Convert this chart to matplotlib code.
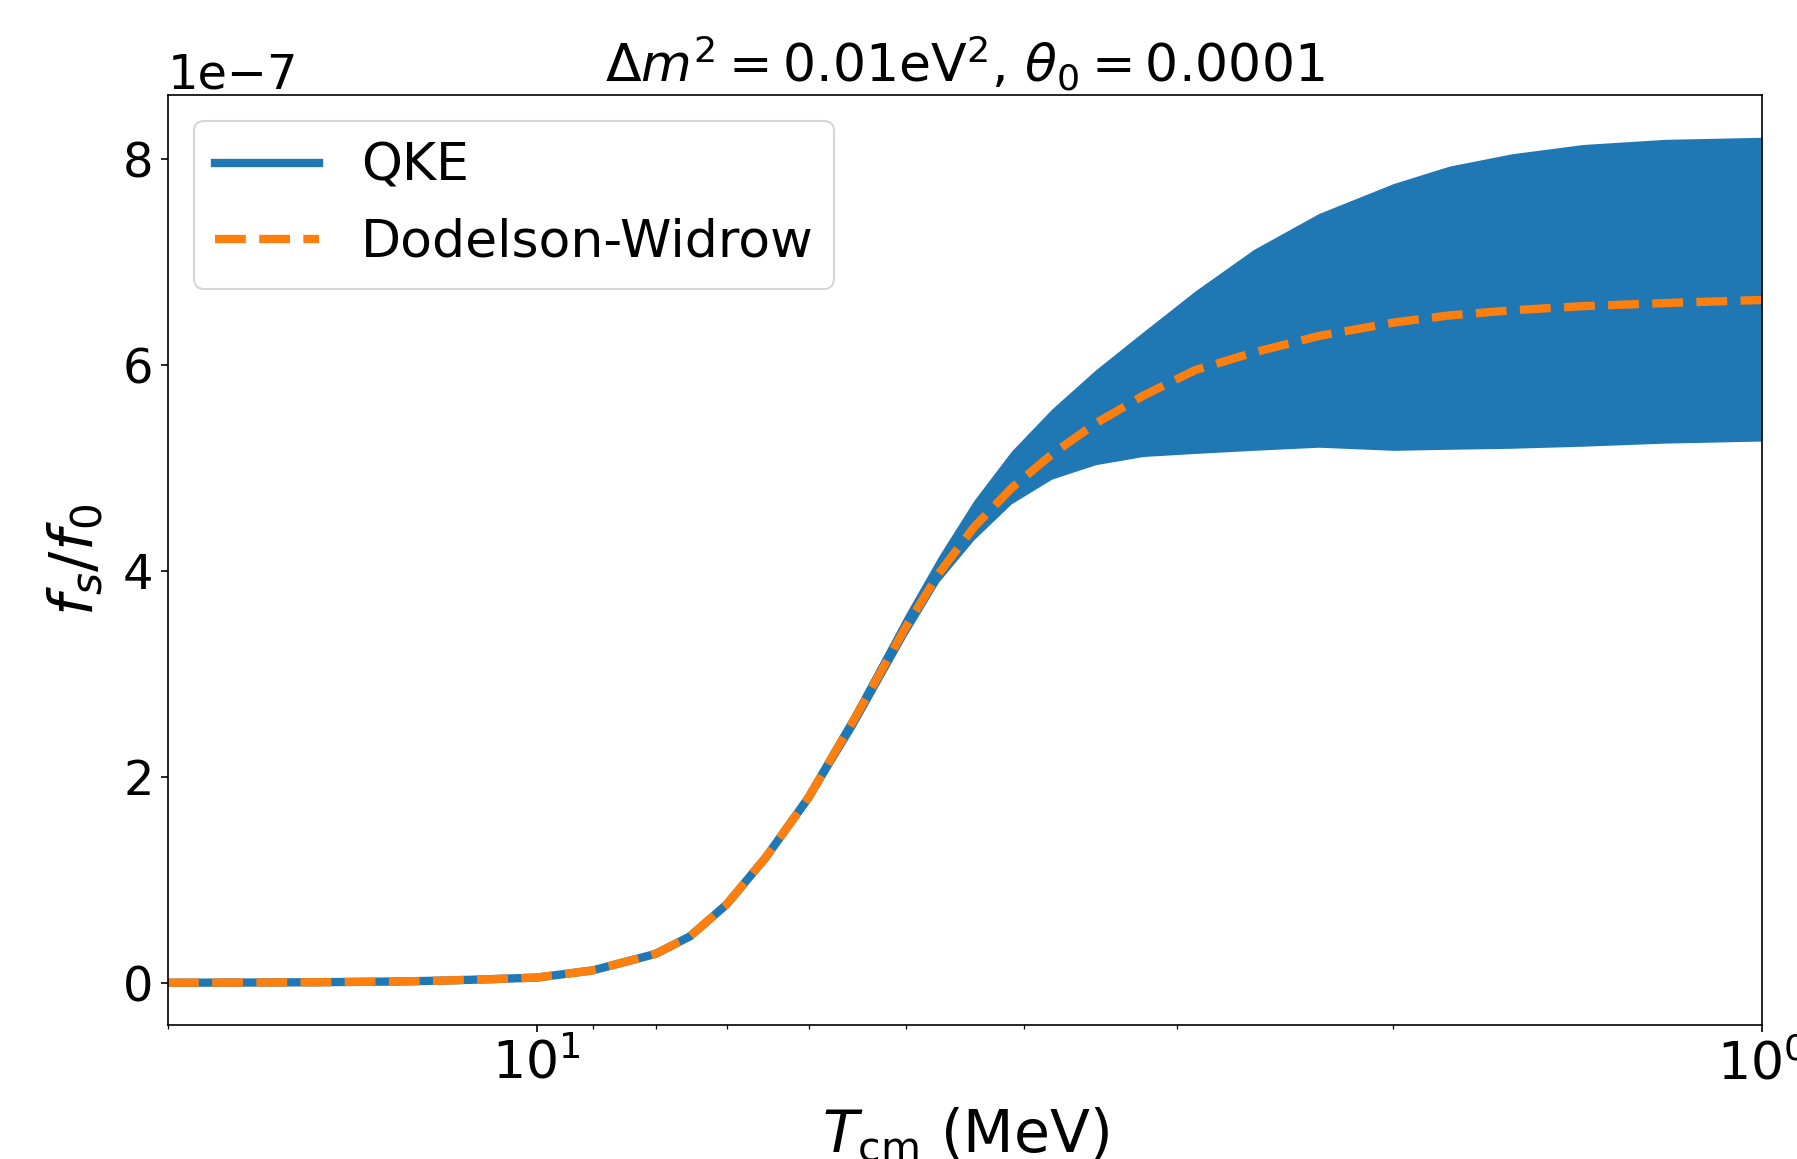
import numpy as np
import matplotlib
matplotlib.use("Agg")
from matplotlib import pyplot as plt

# temperature grid (MeV)
T = [20, 17, 15, 13, 12, 11, 10, 9, 8, 7.5, 7, 6.5, 6, 5.5, 5, 4.7, 4.4, 4.1, 3.8, 3.5,
     3.2, 2.9, 2.6, 2.3, 2.0, 1.8, 1.6, 1.4, 1.2, 1.0]

# Dodelson-Widrow curve (units of 1e-7)
dw = [0, 0.002, 0.005, 0.012, 0.02, 0.033, 0.05, 0.12, 0.28, 0.45, 0.76, 1.22, 1.8, 2.57,
      3.45, 3.97, 4.42, 4.8, 5.13, 5.43, 5.7, 5.95, 6.12, 6.28, 6.41, 6.48, 6.53, 6.57, 6.60, 6.63]

# envelope of the (fast oscillating) QKE solution (units of 1e-7)
qke_hi = [0, 0.002, 0.005, 0.013, 0.021, 0.035, 0.055, 0.13, 0.30, 0.47, 0.79, 1.26, 1.86, 2.66,
          3.58, 4.14, 4.68, 5.16, 5.57, 5.95, 6.32, 6.72, 7.12, 7.47, 7.76, 7.93, 8.05, 8.14, 8.19, 8.21]
qke_lo = [0, 0.002, 0.005, 0.011, 0.019, 0.031, 0.045, 0.11, 0.26, 0.43, 0.73, 1.18, 1.74, 2.48,
          3.36, 3.89, 4.3, 4.65, 4.89, 5.03, 5.11, 5.14, 5.17, 5.2, 5.17, 5.18, 5.19, 5.21, 5.24, 5.26]

T = np.array(T)
scale = 1e-7
dw = np.array(dw) * scale
qke_hi = np.array(qke_hi) * scale
qke_lo = np.array(qke_lo) * scale

fig = plt.figure(figsize=(1797 / 150, 1159 / 150), dpi=150)
ax = fig.add_axes([168 / 1797, 1 - 1025 / 1159, (1762 - 168) / 1797, (1025 - 95) / 1159])

blue = '#1f77b4'
orange = '#ff7f0e'

ax.fill_between(T, qke_lo, qke_hi, color=blue, lw=0)
ax.plot(T, (qke_lo + qke_hi) / 2, color=blue, lw=4, label='QKE')
ax.plot(T, dw, color=orange, lw=4, ls='--', label='Dodelson-Widrow')

ax.set_xscale('log')
ax.set_xlim(20, 1)

ax.tick_params(axis='y', labelsize=23)
ax.tick_params(axis='x', labelsize=25)
ax.yaxis.get_offset_text().set_fontsize(23)

ax.set_xlabel(r'$T_{\rm cm}$ (MeV)', fontsize=28, labelpad=7)
ax.set_ylabel(r'$f_s/f_0$', fontsize=29, labelpad=8)
ax.set_title(r'$\Delta m^2 = 0.01 \mathrm{eV}^2$, $\theta_0 = 0.0001$', fontsize=25)

ax.legend(loc='upper left', fontsize=25)

fig.savefig('out.png', dpi=150)
plt.close(fig)
